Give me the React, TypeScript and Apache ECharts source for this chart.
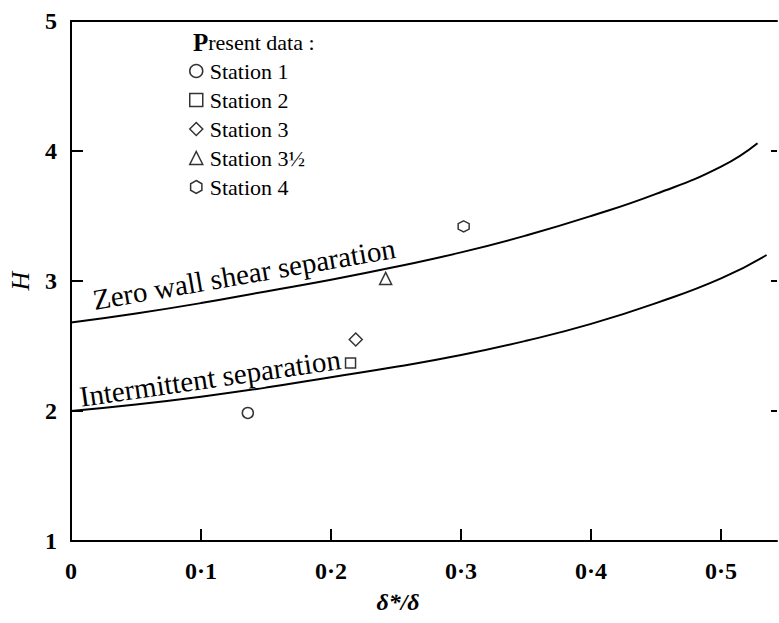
import React, { useEffect, useRef } from "react";
import * as echarts from "echarts";

const FONT = "'Liberation Serif', 'DejaVu Serif', serif";

// Curves
const zeroShearX = [0, 0.05, 0.1, 0.15, 0.2, 0.25, 0.3, 0.35, 0.4, 0.45, 0.5, 0.528];
const zeroShearH = [2.68, 2.75, 2.83, 2.92, 3.01, 3.11, 3.22, 3.35, 3.5, 3.67, 3.88, 4.06];
const intermX = [0, 0.05, 0.1, 0.15, 0.2, 0.25, 0.3, 0.35, 0.4, 0.45, 0.5, 0.535];
const intermH = [2.0, 2.05, 2.11, 2.18, 2.26, 2.34, 2.43, 2.54, 2.67, 2.83, 3.02, 3.2];

// Stations
const stationNames = ["Station 1", "Station 2", "Station 3", "Station 3½", "Station 4"];
const stationX = [0.136, 0.215, 0.219, 0.242, 0.302];
const stationH = [1.985, 2.37, 2.55, 3.02, 3.42];
const stationSymbols = [
  "circle",
  "rect",
  "diamond",
  "triangle",
  "path://M0,-1 L0.866,-0.5 L0.866,0.5 L0,1 L-0.866,0.5 L-0.866,-0.5 Z",
];
const stationSizes = [11, 10, 13, 12, 11];

const xTicks = [0, 0.1, 0.2, 0.3, 0.4, 0.5];
const yTicks = [1, 2, 3, 4, 5];

export default function App() {
  const ref = useRef<HTMLDivElement>(null);
  useEffect(() => {
    if (!ref.current) return;
    const chart = echarts.init(ref.current, null, { renderer: "svg" });
    const pair = (xs: number[], ys: number[]) => xs.map((x, i) => [x, ys[i]]);
    const fmtX = (v: number) => {
      if (!xTicks.some((t) => Math.abs(t - v) < 1e-9)) return "";
      return v === 0 ? "0" : v.toFixed(1).replace(".", "·");
    };
    const stationSeries = stationNames.map((name, i) => ({
      name,
      type: "scatter",
      symbol: stationSymbols[i],
      symbolSize: stationSizes[i],
      data: [[stationX[i], stationH[i]]],
      itemStyle: { color: "#fff", borderColor: "#000", borderWidth: 1.5 },
      xAxisIndex: 0,
      yAxisIndex: 0,
      z: 5,
    }));
    chart.setOption({
      animation: false,
      backgroundColor: "#fff",
      grid: { left: 71, right: 2, top: 21, bottom: 82, containLabel: false },
      xAxis: [
        {
          type: "value",
          min: 0,
          max: 0.543,
          interval: 0.1,
          position: "bottom",
          axisLine: { show: true, lineStyle: { color: "#000", width: 2 } },
          axisTick: { show: true, inside: true, length: 12, lineStyle: { color: "#000", width: 2 } },
          axisLabel: {
            formatter: fmtX,
            showMaxLabel: false,
            color: "#000",
            fontFamily: FONT,
            fontWeight: "bold",
            fontSize: 24,
            margin: 18,
          },
          splitLine: { show: false },
        },
        {
          type: "value",
          min: 0,
          max: 0.543,
          position: "top",
          axisLine: { show: true, onZero: false, lineStyle: { color: "#000", width: 2 } },
          axisTick: { show: false },
          axisLabel: { show: false },
          splitLine: { show: false },
        },
      ],
      yAxis: [
        {
          type: "value",
          min: 1,
          max: 5,
          interval: 1,
          position: "left",
          axisLine: { show: true, onZero: false, lineStyle: { color: "#000", width: 2 } },
          axisTick: { show: true, inside: true, length: 12, lineStyle: { color: "#000", width: 2 } },
          axisLabel: {
            formatter: (v: number) => (yTicks.includes(v) ? String(v) : ""),
            color: "#000",
            fontFamily: FONT,
            fontWeight: "bold",
            fontSize: 24,
            margin: 14,
          },
          splitLine: { show: false },
        },
        {
          type: "value",
          min: 1,
          max: 5,
          interval: 1,
          position: "right",
          axisLine: { show: true, onZero: false, lineStyle: { color: "rgba(0,0,0,0)", width: 0 } },
          axisTick: { show: true, inside: true, length: 6, lineStyle: { color: "#000", width: 2 } },
          axisLabel: { show: false },
          splitLine: { show: false },
        },
      ],
      legend: {
        data: stationNames,
        orient: "vertical",
        left: 189,
        top: 60,
        itemWidth: 13,
        itemHeight: 13,
        itemGap: 7,
        padding: 0,
        selectedMode: false,
        itemStyle: { color: "#fff", borderColor: "#000", borderWidth: 1.5 },
        textStyle: { color: "#000", fontFamily: FONT, fontSize: 22, padding: [0, 0, 0, 2] },
      },
      series: [
        {
          name: "Zero wall shear separation",
          type: "line",
          smooth: true,
          showSymbol: false,
          data: pair(zeroShearX, zeroShearH),
          lineStyle: { color: "#000", width: 2 },
          z: 3,
        },
        {
          name: "Intermittent separation",
          type: "line",
          smooth: true,
          showSymbol: false,
          data: pair(intermX, intermH),
          lineStyle: { color: "#000", width: 2 },
          z: 3,
        },
        ...stationSeries,
      ],
      graphic: [
        {
          type: "text",
          left: 193,
          top: 30,
          style: {
            text: "{b|P}resent data :",
            rich: { b: { fontWeight: "bold", fontSize: 25, fontFamily: FONT, fill: "#000" } },
            fontFamily: FONT,
            fontSize: 22,
            fill: "#000",
          },
        },
        {
          type: "text",
          x: 244,
          y: 274,
          rotation: (9.8 * Math.PI) / 180,
          style: {
            text: "Zero wall shear separation",
            align: "center",
            verticalAlign: "middle",
            fontFamily: FONT,
            fontSize: 29,
            fill: "#000",
          },
        },
        {
          type: "text",
          x: 210,
          y: 378,
          rotation: (8.3 * Math.PI) / 180,
          style: {
            text: "Intermittent separation",
            align: "center",
            verticalAlign: "middle",
            fontFamily: FONT,
            fontSize: 29,
            fill: "#000",
          },
        },
        {
          type: "text",
          x: 20,
          y: 281,
          rotation: Math.PI / 2,
          style: {
            text: "H",
            align: "center",
            verticalAlign: "middle",
            fontFamily: FONT,
            fontStyle: "italic",
            fontSize: 26,
            fill: "#000",
          },
        },
        {
          type: "text",
          x: 398,
          y: 602,
          style: {
            text: "δ*/δ",
            align: "center",
            verticalAlign: "middle",
            fontFamily: FONT,
            fontStyle: "italic",
            fontWeight: "bold",
            fontSize: 24,
            fill: "#000",
          },
        },
      ],
    });
    return () => chart.dispose();
  }, []);
  return (
    <div
      ref={ref}
      style={{ position: "fixed", left: 0, top: 0, width: 779, height: 623, background: "#fff" }}
    />
  );
}
